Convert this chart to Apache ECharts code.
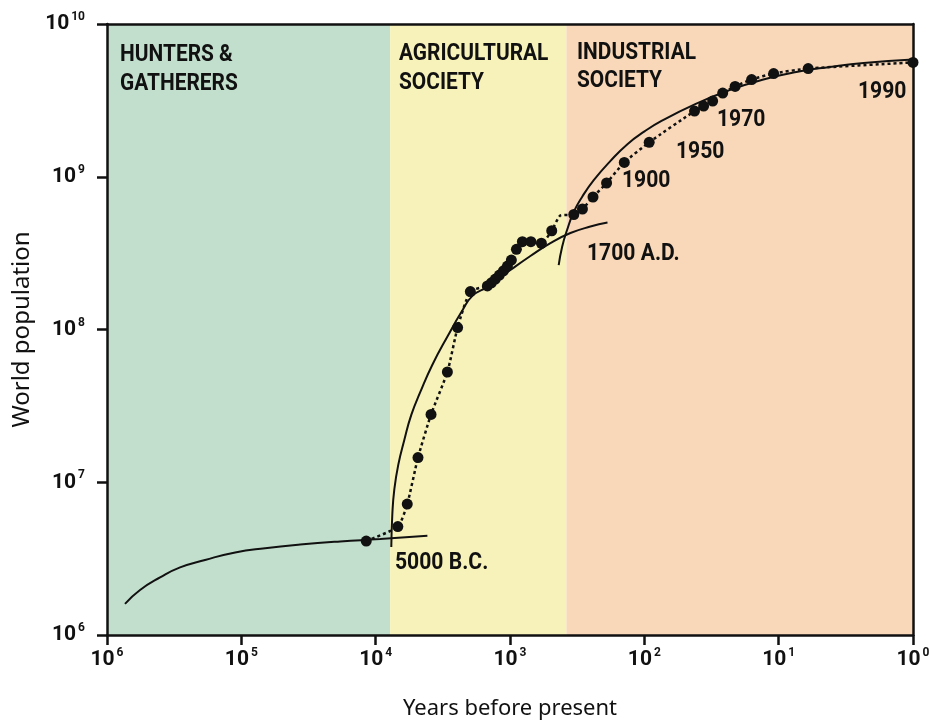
<!DOCTYPE html>
<html><head><meta charset="utf-8">
<script src="https://cdn.jsdelivr.net/npm/echarts/dist/echarts.min.js"></script>
<style>html,body{margin:0;padding:0;background:#fff;overflow:hidden}#c{width:929px;height:721px}</style>
</head><body><div id="c"></div>
<script>
// Solid fitted curves (years before present, world population)
const huntersYears = [734500, 567500, 402700, 285800, 186200, 111100, 66500, 36500, 18370, 9250, 4120];
const huntersPop   = [1.60e6, 1.97e6, 2.38e6, 2.77e6, 3.10e6, 3.47e6, 3.70e6, 3.91e6, 4.10e6, 4.25e6, 4.47e6];

const agriYears = [7650, 7520, 7270, 6790, 6120, 5430, 4650, 3790, 2880, 2300, 1905, 1473, 993, 705, 500, 355, 252, 188];
const agriPop   = [3.77e6, 6.11e6, 8.9e6, 1.30e7, 1.89e7, 2.76e7, 3.90e7, 5.86e7, 9.2e7, 1.30e8, 1.66e8, 1.90e8, 2.45e8, 3.03e8, 3.68e8, 4.28e8, 4.72e8, 5.01e8];

const indYears = [434, 409, 376, 335, 290, 238, 178.6, 133, 99.7, 74.5, 41.8, 23.6, 13.2, 7.38, 4.17, 2.33, 1];
const indPop   = [2.64e8, 3.48e8, 4.48e8, 5.9e8, 7.4e8, 9.5e8, 1.27e9, 1.64e9, 1.98e9, 2.32e9, 2.99e9, 3.67e9, 4.32e9, 4.85e9, 5.23e9, 5.56e9, 5.86e9];

// Observed estimates (dots)
const dotYears = [11750, 6840, 5820, 4840, 3870, 2925, 2454, 1973, 1473, 1376, 1285, 1199, 1119, 1045, 977, 896, 809, 699, 584, 489, 335, 289, 241, 191, 141, 92, 42.3, 36.2, 31, 26.1, 21.1, 15.9, 10.9, 6.03, 1];
const dotPop   = [4.12e6, 5.13e6, 7.2e6, 1.45e7, 2.78e7, 5.27e7, 1.03e8, 1.77e8, 1.93e8, 2.02e8, 2.14e8, 2.27e8, 2.42e8, 2.6e8, 2.85e8, 3.35e8, 3.76e8, 3.76e8, 3.67e8, 4.43e8, 5.66e8, 6.15e8, 7.37e8, 9.1e8, 1.24e9, 1.68e9, 2.69e9, 2.9e9, 3.13e9, 3.53e9, 3.9e9, 4.33e9, 4.74e9, 5.11e9, 5.6e9];
// extra vertex of the dotted connector (no dot drawn)
const bridgeYears = [421];
const bridgePop   = [5.58e8];

// Eras
const bandNames = [['HUNTERS &', 'GATHERERS'], ['AGRICULTURAL', 'SOCIETY'], ['INDUSTRIAL', 'SOCIETY']];
const bandEdges = [1e6, 7800, 380, 1];
const bandColors = ['#c2dfcd', '#f7f2b9', '#f9d8b9'];

// Annotations
const noteTexts = ['5000 B.C.', '1700 A.D.', '1900', '1950', '1970', '1990'];

const BOLD = 'Roboto, "DejaVu Sans Condensed", sans-serif';
const REG = '"Noto Sans", "Open Sans", sans-serif';

const zip = (xs, ys) => xs.map((x, i) => [x, ys[i]]);
const dottedPath = zip(dotYears, dotPop).concat(zip(bridgeYears, bridgePop)).sort((a, b) => b[0] - a[0]);

const supFmt = v => {
  const e = Math.round(Math.log10(v));
  return '{b|10}{s|' + e + '}';
};
const rich = {
  b: { fontFamily: BOLD, fontWeight: 'bold', fontSize: 21, color: '#111', lineHeight: 26 },
  s: { fontFamily: BOLD, fontWeight: 'bold', fontSize: 12, color: '#111', lineHeight: 26, verticalAlign: 'top', padding: [0, 0, 0, 2] }
};

const chart = echarts.init(document.getElementById('c'));

const bandAreas = bandColors.map((c, i) => [
  { xAxis: bandEdges[i], itemStyle: { color: c } },
  { xAxis: bandEdges[i + 1] }
]);

// text placements (pixels)
const bandPos = [[120, 55, 84], [399, 54, 83], [577, 53, 81]];
const notePos = [[395, 563], [587, 254], [622, 181], [676, 152], [717, 120], [858, 92]];
const textStyle = t => ({ text: t, fill: '#111', font: 'bold 24px ' + BOLD, align: 'left', verticalAlign: 'middle' });
const graphics = [];
bandNames.forEach((lines, i) => {
  lines.forEach((t, j) => {
    graphics.push({ type: 'text', x: bandPos[i][0], y: bandPos[i][1 + j], scaleX: 0.87, z: 100, style: textStyle(t) });
  });
});
noteTexts.forEach((t, i) => {
  graphics.push({ type: 'text', x: notePos[i][0], y: notePos[i][1], scaleX: 0.88, z: 100, style: textStyle(t) });
});

const axisLineStyle = { lineStyle: { color: '#111', width: 2.5 } };

chart.setOption({
  animation: false,
  backgroundColor: '#fff',
  grid: { left: 107, right: 16, top: 24, bottom: 86, outerBoundsMode: 'none', containLabel: false },
  xAxis: [{
    type: 'log', logBase: 10, min: 1, max: 1e6, inverse: true, z: 10,
    axisLine: axisLineStyle,
    axisTick: { show: true, length: 10, lineStyle: { color: '#111', width: 2.5 } },
    minorTick: { show: false }, splitLine: { show: false },
    axisLabel: { formatter: supFmt, rich: rich, margin: 12 },
    name: 'Years before present', nameLocation: 'middle', nameGap: 63,
    nameTextStyle: { fontFamily: REG, fontSize: 22, color: '#111' }
  }, {
    type: 'log', logBase: 10, min: 1, max: 1e6, inverse: true, position: 'top', z: 10,
    axisLine: axisLineStyle, axisTick: { show: false }, axisLabel: { show: false }, splitLine: { show: false }
  }],
  yAxis: [{
    type: 'log', logBase: 10, min: 1e6, max: 1e10, z: 10,
    axisLine: axisLineStyle,
    axisTick: { show: true, length: 10, lineStyle: { color: '#111', width: 2.5 } },
    minorTick: { show: false }, splitLine: { show: false },
    axisLabel: { formatter: supFmt, rich: rich, margin: 22 },
    name: 'World population', nameLocation: 'middle', nameGap: 63, nameRotate: 90,
    nameTextStyle: { fontFamily: REG, fontSize: 24, color: '#111' }
  }, {
    type: 'log', logBase: 10, min: 1e6, max: 1e10, position: 'right', z: 10,
    axisLine: axisLineStyle, axisTick: { show: false }, axisLabel: { show: false }, splitLine: { show: false }
  }],
  series: [
    { type: 'line', name: 'bands', data: [], z: 1, silent: true,
      markArea: { silent: true, data: bandAreas } },
    { type: 'line', name: 'hunters', data: zip(huntersYears, huntersPop), smooth: 0.5, showSymbol: false, z: 3,
      lineStyle: { color: '#111', width: 2 } },
    { type: 'line', name: 'agricultural', data: zip(agriYears, agriPop), smooth: 0.5, showSymbol: false, z: 3,
      lineStyle: { color: '#111', width: 2 } },
    { type: 'line', name: 'industrial', data: zip(indYears, indPop), smooth: 0.5, showSymbol: false, z: 3,
      lineStyle: { color: '#111', width: 2 } },
    { type: 'line', name: 'observed-link', data: dottedPath, smooth: 0.2, showSymbol: false, z: 4,
      lineStyle: { color: '#111', width: 2.5, type: [3, 3] } },
    { type: 'scatter', name: 'observed', data: zip(dotYears, dotPop), symbol: 'circle', symbolSize: 11, z: 5,
      itemStyle: { color: '#111', opacity: 1 } }
  ],
  graphic: graphics
});
</script>
</body></html>
